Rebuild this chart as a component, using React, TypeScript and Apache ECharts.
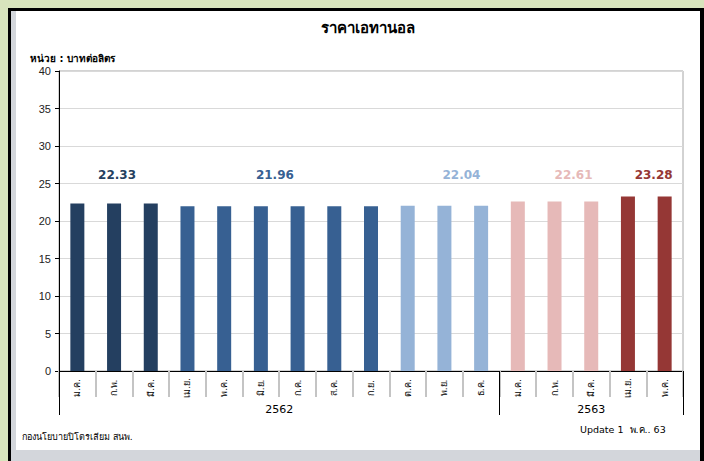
import React, { useEffect, useRef } from "react";
import * as echarts from "echarts";

const categories = ["ม.ค.", "ก.พ.", "มี.ค.", "เม.ย.", "พ.ค.", "มิ.ย.", "ก.ค.", "ส.ค.", "ก.ย.", "ต.ค.", "พ.ย.", "ธ.ค.", "ม.ค.", "ก.พ.", "มี.ค.", "เม.ย.", "พ.ค."];
const prices = [22.33, 22.33, 22.33, 21.96, 21.96, 21.96, 21.96, 21.96, 21.96, 22.04, 22.04, 22.04, 22.61, 22.61, 22.61, 23.28, 23.28];
const groupOf = [0, 0, 0, 1, 1, 1, 1, 1, 1, 2, 2, 2, 3, 3, 3, 4, 4];
const groupValues = [22.33, 21.96, 22.04, 22.61, 23.28];
const years = ["2562", "2563"];
const yearBounds = [0, 12, 17];
const yTicks = [0, 5, 10, 15, 20, 25, 30, 35, 40];

const groupColors = ["#243f60", "#376092", "#95b3d7", "#e6b9b8", "#953735"];
// label anchor category index and horizontal pixel offset
const labelAnchor = [1, 5, 10, 13, 16];
const labelDx = [3, 14, 17, 19, -11];
const labelLevel = 26.1;

const THAI = "'Tahoma', 'DejaVu Sans', 'Noto Sans', sans-serif";

export default function App() {
  const ref = useRef<HTMLDivElement>(null);
  useEffect(() => {
    if (!ref.current) return;
    const chart = echarts.init(ref.current, null, { renderer: "svg" });
    const yearCenters = years.map((_, i) => (yearBounds[i] + yearBounds[i + 1]) / 2);
    chart.setOption({
      animation: false,
      backgroundColor: "#d8e4bc",
      graphic: [
        { type: "rect", z: -10, shape: { x: 8, y: 8, width: 696, height: 453 }, style: { fill: "#000" } },
        { type: "rect", z: -9, shape: { x: 11, y: 11, width: 689, height: 450 }, style: { fill: "#d3d6db" } },
        { type: "rect", z: -8, shape: { x: 16, y: 11, width: 684, height: 439 }, style: { fill: "#fff" } },
        { type: "text", x: 368, y: 28, style: { text: "ราคาเอทานอล", fontSize: 15, fontWeight: "bold", fontFamily: THAI, fill: "#000", align: "center", verticalAlign: "middle" } },
        { type: "text", x: 30, y: 58, style: { text: "หน่วย : บาทต่อลิตร", fontSize: 10, fontWeight: "bold", fontFamily: THAI, fill: "#000", align: "left", verticalAlign: "middle" } },
        { type: "text", x: 22, y: 437, style: { text: "กองนโยบายปิโตรเลียม สนพ.", fontSize: 9, fontFamily: THAI, fill: "#000", align: "left", verticalAlign: "middle" } },
        { type: "text", x: 580, y: 429, style: { text: "Update 1  พ.ค.. 63", fontSize: 9.5, fontFamily: THAI, fill: "#000", align: "left", verticalAlign: "middle" } },
      ],
      grid: { left: 59, right: 21, top: 71, bottom: 90, show: true, borderColor: "#a6a6a6", borderWidth: 1, backgroundColor: "transparent" },
      xAxis: [
        {
          type: "category",
          data: categories,
          axisLine: { lineStyle: { color: "#000", width: 1 } },
          axisTick: { show: true, interval: 0, length: 26, lineStyle: { color: "#c4c4c4", width: 2 } },
          axisLabel: { interval: 0, rotate: 90, align: "center", verticalAlign: "middle", margin: 17, fontSize: 9, color: "#000", fontFamily: THAI },
        },
        {
          type: "value",
          position: "bottom",
          min: 0,
          max: 17,
          axisLine: { show: false },
          splitLine: { show: false },
          axisTick: { show: true, customValues: yearBounds, length: 44, lineStyle: { color: "#000", width: 1 } },
          axisLabel: {
            customValues: yearCenters,
            formatter: (v: number) => years[yearCenters.indexOf(v)] ?? "",
            margin: 33,
            fontSize: 11,
            color: "#000",
            fontFamily: THAI,
          },
        },
      ],
      yAxis: {
        type: "value",
        min: yTicks[0],
        max: yTicks[yTicks.length - 1],
        interval: 5,
        axisLine: { show: true, lineStyle: { color: "#000" } },
        axisTick: { show: true, length: 4, lineStyle: { color: "#000" } },
        axisLabel: { fontSize: 11, color: "#222", margin: 8, fontFamily: "'Liberation Sans', Arial, sans-serif" },
        splitLine: { lineStyle: { color: "#d9d9d9" } },
      },
      series: [
        {
          type: "bar",
          xAxisIndex: 0,
          barWidth: 14,
          data: prices.map((v, i) => ({ value: v, itemStyle: { color: groupColors[groupOf[i]] } })),
          markPoint: {
            symbol: "rect",
            symbolSize: 1,
            itemStyle: { color: "rgba(0,0,0,0)" },
            label: {
              show: true,
              position: "inside",
              fontSize: 12,
              fontWeight: "bold",
              fontFamily: "'DejaVu Sans', Verdana, sans-serif",
              formatter: (p: any) => p.value.toFixed(2),
            },
            data: groupValues.map((v, g) => ({
              coord: [labelAnchor[g], labelLevel],
              value: v,
              label: { offset: [labelDx[g], 0], color: groupColors[g] },
            })),
          },
        },
      ],
    });
    return () => chart.dispose();
  }, []);
  return <div ref={ref} style={{ position: "fixed", left: 0, top: 0, width: 704, height: 461 }} />;
}
